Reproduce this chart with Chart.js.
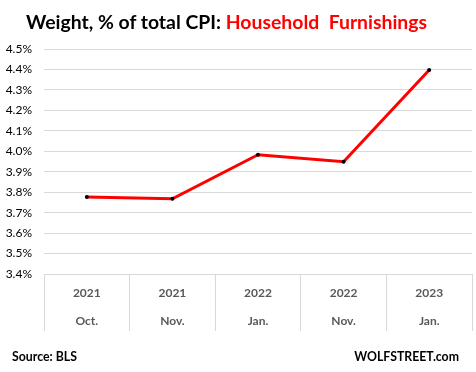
<!DOCTYPE html>
<html>
<head>
<meta charset="utf-8">
<script src="https://cdn.jsdelivr.net/npm/chart.js@4.4.1/dist/chart.umd.min.js"></script>
<style>
  body { margin: 0; background: #fff; }
  #wrap { position: relative; width: 476px; height: 372px; }
  #title { position: absolute; left: 26px; top: 12px; font: bold 19.4px Lato, sans-serif; line-height: 1; white-space: pre; color: #000; }
  #title .red { color: #ff0000; }
  .foot { position: absolute; top: 351px; font: bold 12.3px Lato, sans-serif; line-height: 1; color: #000; }
</style>
</head>
<body>
<div id="wrap">
  <canvas id="lineChart" width="476" height="372"></canvas>
  <div id="title">Weight, % of total CPI: <span class="red">Household  Furnishings</span></div>
  <div class="foot" style="left:12px">Source: BLS</div>
  <div class="foot" style="right:17px">WOLFSTREET.com</div>
</div>
<script>
// dados
const years = ['2021', '2021', '2022', '2022', '2023'];
const months = ['Oct.', 'Nov.', 'Jan.', 'Nov.', 'Jan.'];
const weights = [3.776, 3.768, 3.983, 3.949, 4.397];
const yMin = 3.4;
const yMax = 4.5;

const labels = years.map((y, i) => [y, months[i]]);

const data = {
    labels: labels,
    datasets: [{
        data: weights,
        borderColor: '#ff0000',
        borderWidth: 3,
        pointRadius: 2,
        pointBackgroundColor: '#000',
        pointBorderWidth: 0,
        tension: 0
    }]
};

const config = {
    type: 'line',
    data: data,
    options: {
        responsive: false,
        animation: false,
        layout: { padding: { top: 49, right: 2, bottom: 41, left: 0 } },
        plugins: { legend: { display: false }, tooltip: { enabled: false } },
        scales: {
            x: {
                offset: true,
                grid: { offset: true, drawOnChartArea: false, tickLength: 57, color: '#d9d9d9', lineWidth: 1 },
                border: { display: false },
                ticks: {
                    color: '#595959',
                    padding: -52,
                    font: { family: 'Lato', size: 12, weight: 'bold', lineHeight: 28 / 12 }
                },
                afterFit: (s) => { s.height = 57; }
            },
            y: {
                min: yMin,
                max: yMax,
                grid: { color: '#d9d9d9', drawTicks: false },
                border: { display: false },
                ticks: {
                    stepSize: 0.1,
                    padding: 12,
                    color: '#000',
                    font: { family: 'Lato', size: 12 },
                    callback: (v) => v.toFixed(1) + '%'
                },
                afterFit: (s) => { s.width = 44; }
            }
        }
    }
};

const ctx = document.getElementById('lineChart').getContext('2d');
const myChart = new Chart(ctx, config);
</script>
</body>
</html>
